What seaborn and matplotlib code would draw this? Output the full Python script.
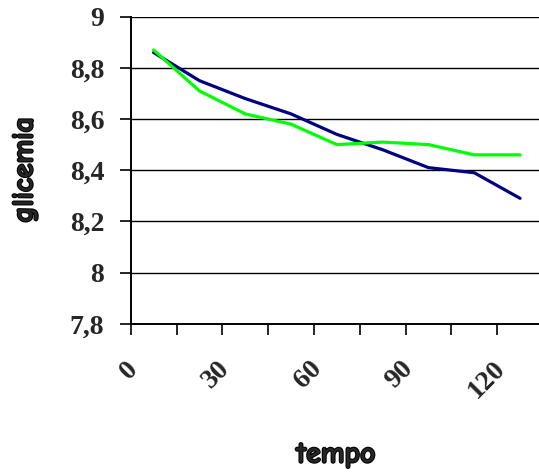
import matplotlib
matplotlib.use("Agg")
import matplotlib.pyplot as plt
import matplotlib.transforms as mtransforms
import matplotlib.patheffects as pe
from matplotlib.font_manager import FontProperties
import seaborn as sns
import pandas as pd

# ---- data ----
tempo = [0, 15, 30, 45, 60, 75, 90, 105, 120]
serie_blu = [8.86, 8.75, 8.68, 8.62, 8.54, 8.48, 8.41, 8.39, 8.29]
serie_verde = [8.87, 8.71, 8.62, 8.58, 8.50, 8.51, 8.50, 8.46, 8.46]
x_tick_values = [0, 30, 60, 90, 120]
x_tick_labels = ["0", "30", "60", "90", "120"]
y_tick_values = [7.8, 8.0, 8.2, 8.4, 8.6, 8.8, 9.0]
y_tick_labels = ["7,8", "8", "8,2", "8,4", "8,6", "8,8", "9"]

df = pd.DataFrame({
    "tempo": tempo * 2,
    "glicemia": serie_blu + serie_verde,
    "serie": ["blu"] * len(tempo) + ["verde"] * len(tempo),
})

sns.set_style("white")
W, H = 539, 472
fig = plt.figure(figsize=(W / 100, H / 100), dpi=100)
left, right, top, bottom = 130.7, 543.0, 16.7, 323.7
ax = fig.add_axes([left / W, 1 - bottom / H, (right - left) / W, (bottom - top) / H])

sns.lineplot(data=df, x="tempo", y="glicemia", hue="serie",
             palette={"blu": "#000080", "verde": "#00FF00"},
             linewidth=2.3, legend=False, ax=ax, zorder=3)

ax.set_xlim(-7.5, 127.5)
ax.set_ylim(7.8, 9.0)

tick_fp = FontProperties(family="Liberation Serif", weight="bold", size=20)
label_fp = FontProperties(family="Comic Neue", weight="bold", size=21.5)

# y axis
ax.set_yticks(y_tick_values)
ax.set_yticklabels(y_tick_labels)
for lab in ax.get_yticklabels():
    lab.set_fontproperties(tick_fp)
ax.yaxis.grid(True, color="black", linewidth=1.0)
ax.tick_params(axis="y", which="major", direction="out", length=8,
               width=1.2, color="black", pad=11, left=True)

# x axis: labels at categories, tick marks at boundaries
ax.set_xticks(x_tick_values)
ax.set_xticklabels(x_tick_labels, rotation=45,
                   ha="right", va="center", rotation_mode="anchor")
ax.set_xticks([-7.5 + 15 * i for i in range(9)], minor=True)
ax.tick_params(axis="x", which="major", length=0, pad=30, bottom=True)
ax.tick_params(axis="x", which="minor", direction="out", length=8,
               width=1.2, color="black", bottom=True)
offset = mtransforms.ScaledTranslation(-19 / 100, 0, fig.dpi_scale_trans)
for lab in ax.get_xticklabels():
    lab.set_fontproperties(tick_fp)
    lab.set_transform(lab.get_transform() + offset)

for side in ["top", "right"]:
    ax.spines[side].set_visible(False)
for side in ["left", "bottom"]:
    ax.spines[side].set_color("black")
    ax.spines[side].set_linewidth(1.4)

ax.set_xlabel("tempo", va="center", ha="center")
ax.set_ylabel("glicemia", va="center", ha="center")
for lbl in (ax.xaxis.label, ax.yaxis.label):
    lbl.set_fontproperties(label_fp)
    lbl.set_path_effects([pe.withStroke(linewidth=1.5, foreground="black")])
ax.xaxis.set_label_coords(336 / W, 1 - 455 / H, transform=fig.transFigure)
ax.yaxis.set_label_coords(25 / W, 1 - 170 / H, transform=fig.transFigure)

fig.savefig("out.png", dpi=100)
